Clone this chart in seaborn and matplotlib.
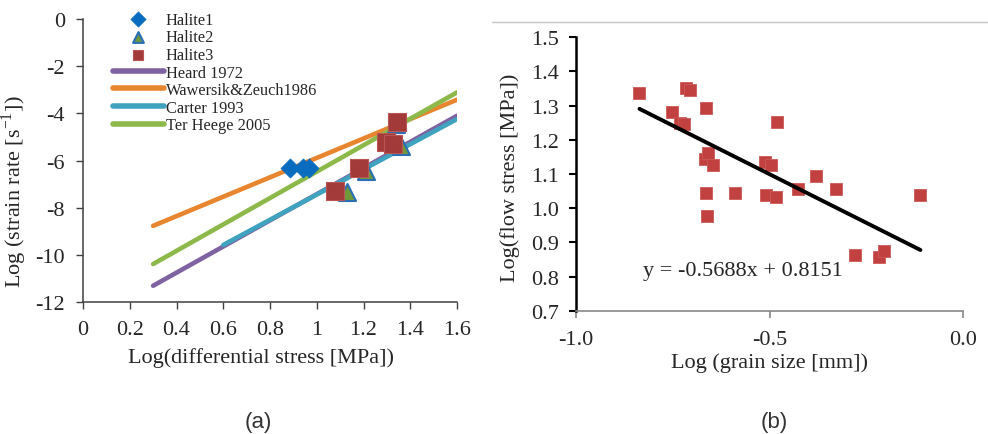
import matplotlib
matplotlib.use("Agg")
import matplotlib.pyplot as plt
import numpy as np
import pandas as pd
import seaborn as sns
from matplotlib.lines import Line2D

sns.set_theme(style="ticks")
plt.rcParams['font.family'] = ['Liberation Serif', 'DejaVu Serif']
plt.rcParams['mathtext.fontset'] = 'stix'
plt.rcParams['axes.unicode_minus'] = False

# ---- panel (a): creep laws and halite tests ----
law_names = ["Heard 1972", "Wawersik&Zeuch1986", "Carter 1993", "Ter Heege 2005"]
law_colors = ["#7f62a1", "#e8852f", "#3fa3bf", "#8db84a"]
law_x = [[0.30, 1.60], [0.30, 1.60], [0.60, 1.60], [0.30, 1.60]]
law_y = [[-11.31, -4.10], [-8.77, -3.42], [-9.58, -4.24], [-10.39, -3.11]]

halite1_x = [0.886, 0.941, 0.967]
halite1_y = [-6.32, -6.32, -6.32]
halite2_x = [1.13, 1.21, 1.36, 1.34]
halite2_y = [-7.35, -6.45, -5.40, -4.45]
halite3_x = [1.078, 1.182, 1.295, 1.328, 1.342]
halite3_y = [-7.31, -6.33, -5.23, -5.30, -4.35]

# ---- panel (b): grain size vs flow stress ----
grain_x = [-0.836, -0.751, -0.731, -0.722, -0.717, -0.705, -0.664, -0.667, -0.658,
           -0.647, -0.664, -0.661, -0.588, -0.511, -0.496, -0.509, -0.483, -0.481,
           -0.427, -0.379, -0.328, -0.279, -0.218, -0.203, -0.110]
stress_y = [1.338, 1.280, 1.249, 1.245, 1.351, 1.346, 1.294, 1.143, 1.160,
            1.126, 1.044, 0.977, 1.044, 1.134, 1.126, 1.039, 1.034, 1.252,
            1.055, 1.093, 1.055, 0.863, 0.856, 0.876, 1.040]
fit_slope = -0.5688
fit_intercept = 0.8151

fig = plt.figure(figsize=(9.88, 4.35), dpi=100)
ax1 = fig.add_axes([0.084, 0.3034, 0.3786, 0.6506])
ax2 = fig.add_axes([0.583, 0.2834, 0.3917, 0.6286])

for name, col, xs, ys in zip(law_names, law_colors, law_x, law_y):
    sns.lineplot(x=xs, y=ys, ax=ax1, color=col, lw=3.3, label=name,
                 solid_capstyle='round')

sns.scatterplot(x=halite1_x, y=halite1_y, ax=ax1, marker='D', s=95,
                color='#0a6cbf', edgecolor='#0a6cbf', linewidth=0.5, label='Halite1', zorder=5)
sns.scatterplot(x=halite2_x, y=halite2_y, ax=ax1, marker='^', s=150,
                color='#6f9a3c', edgecolor='#2a6fb5', linewidth=1.5, label='Halite2', zorder=5)
sns.scatterplot(x=halite3_x, y=halite3_y, ax=ax1, marker='s', s=175,
                color='#a33a3a', edgecolor='#b95555', linewidth=0.8, label='Halite3', zorder=6)

ax1.set_xlim(0, 1.6)
ax1.set_ylim(-12, 0)
ax1.set_xticks(np.arange(0, 1.61, 0.2))
ax1.set_xticklabels(["0", "0.2", "0.4", "0.6", "0.8", "1", "1.2", "1.4", "1.6"])
ax1.set_yticks(np.arange(-12, 0.1, 2))
ax1.set_xlabel("Log(differential stress [MPa])", fontsize=16)
ax1.set_ylabel(r"Log (strain rate [s$^{\mathregular{-1}}$])", fontsize=16)
ax1.xaxis.set_label_coords(0.476, -0.159)
ax1.yaxis.set_label_coords(-0.144, 0.392)
ax1.tick_params(labelsize=16, length=5, width=1, color='#404040', direction='out')
ax1.tick_params(axis='x', pad=8)
ax1.tick_params(axis='y', pad=8)
for sp in ['top', 'right']:
    ax1.spines[sp].set_visible(False)
for sp in ['left', 'bottom']:
    ax1.spines[sp].set_color('#404040')
    ax1.spines[sp].set_linewidth(1.1)

handles, labels = ax1.get_legend_handles_labels()
order = [labels.index(n) for n in ['Halite1', 'Halite2', 'Halite3'] + law_names]
leg = ax1.legend([handles[i] for i in order], [labels[i] for i in order],
                 loc='upper left', bbox_to_anchor=(0.1144, 0.971),
                 bbox_transform=fig.transFigure, frameon=False, fontsize=11.8,
                 handlelength=3.1, handletextpad=0.12, labelspacing=0.1,
                 borderpad=0, borderaxespad=0)
for h in leg.legend_handles[:3]:
    h.set_sizes([60])
for h in leg.legend_handles[3:]:
    h.set_linewidth(4)

# panel (b)
sns.scatterplot(x=grain_x, y=stress_y, ax=ax2, marker='s', s=75,
                color='#c0413f', edgecolor='#cc5a58', linewidth=0.6, zorder=4)
fit_x = np.array([min(grain_x), max(grain_x)])
sns.lineplot(x=fit_x, y=fit_slope * fit_x + fit_intercept, ax=ax2,
             color='black', lw=2.8, zorder=5)
ax2.text(-0.826, 0.817, "y = -0.5688x + 0.8151", fontsize=16, va='center', ha='left')

ax2.set_xlim(-1.0, 0.0)
ax2.set_ylim(0.7, 1.5)
ax2.set_xticks([-1.0, -0.5, 0.0])
ax2.set_xticklabels(["-1.0", "-0.5", "0.0"])
ax2.set_yticks(np.arange(0.7, 1.51, 0.1))
ax2.set_yticklabels([f"{v:.1f}" for v in np.arange(0.7, 1.51, 0.1)])
ax2.set_xlabel("Log (grain size [mm])", fontsize=16)
ax2.set_ylabel("Log(flow stress [MPa])", fontsize=16)
ax2.xaxis.set_label_coords(0.50, -0.151)
ax2.yaxis.set_label_coords(-0.145, 0.49)
ax2.tick_params(labelsize=16, length=5, direction='out')
ax2.tick_params(axis='x', pad=9, color='#888888', width=1.2)
ax2.tick_params(axis='y', pad=7, color='black', width=1.5)
for sp in ['top', 'right']:
    ax2.spines[sp].set_visible(False)
ax2.spines['left'].set_color('black')
ax2.spines['left'].set_linewidth(1.8)
ax2.spines['bottom'].set_color('#888888')
ax2.spines['bottom'].set_linewidth(1.2)

# thin rule above panel (b)
fig.add_artist(Line2D([492 / 988, 1.0], [1 - 22.7 / 435] * 2, transform=fig.transFigure,
                      color='#c4c4c4', lw=1))

fig.text(0.261, 0.028, "(a)", fontsize=16, family='Liberation Sans', color='#333333',
         ha='center', va='center')
fig.text(0.784, 0.028, "(b)", fontsize=16, family='Liberation Sans', color='#333333',
         ha='center', va='center')

fig.savefig("out.png", dpi=100)
